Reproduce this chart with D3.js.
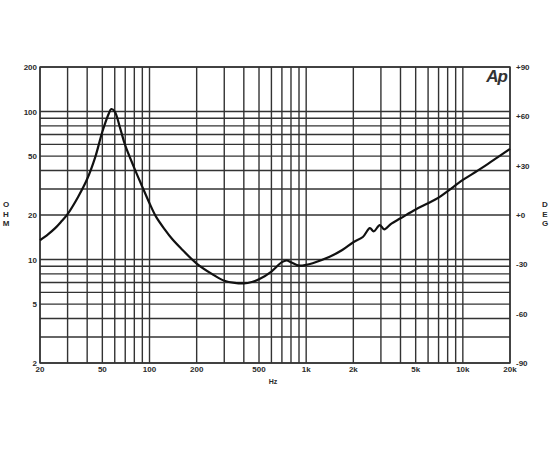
<!DOCTYPE html>
<html>
<head>
<meta charset="utf-8">
<script src="https://cdn.jsdelivr.net/npm/d3@7"></script>
<style>
  body { margin: 0; background: #fff; }
  text { font-family: "Liberation Sans", Arial, sans-serif; font-weight: bold; fill: #2a2a2a; }
</style>
</head>
<body>
<div id="chart"></div>
<script>
// 阻抗曲线数据 (Hz, Ω)
var freqs = [20, 22.5, 25, 27.5, 30, 35, 40, 45, 50, 55, 57, 60, 65, 70, 80, 90, 100, 110, 125, 140, 160, 200,
             250, 300, 350, 400, 450, 500, 600, 700, 750, 800, 900, 1000, 1100, 1400, 1700, 2000,
             2300, 2550, 2700, 2950, 3150, 3500, 4000, 5000, 6000, 7000, 8000, 10000, 12500, 15000, 20000];
var ohms = [13.5, 14.8, 16.3, 18.2, 20.3, 26.5, 35, 49, 73, 97, 104, 100, 77, 59, 41.5, 31, 24, 19.5, 16, 13.7, 11.8, 9.4,
            8.0, 7.2, 6.95, 6.9, 7.05, 7.35, 8.3, 9.6, 9.85, 9.6, 9.1, 9.2, 9.45, 10.4, 11.6, 13.1,
            14.2, 16.3, 15.5, 17.1, 16.0, 17.5, 19.0, 21.8, 24.0, 26.2, 29, 34.5, 40, 45.5, 56];

var xTicks = [20, 50, 100, 200, 500, 1000, 2000, 5000, 10000, 20000];
var xTickLabels = ["20", "50", "100", "200", "500", "1k", "2k", "5k", "10k", "20k"];
var yTicks = [2, 5, 10, 20, 50, 100, 200];
var degTicks = [-90, -60, -30, 0, 30, 60, 90];

var width = 550, height = 450;
var pLeft = 40, pRight = 510, pTop = 67, pBottom = 363;

var svg = d3.select("#chart").append("svg")
    .attr("width", width)
    .attr("height", height);

var x = d3.scaleLog().domain([20, 20000]).range([pLeft, pRight]);
var y = d3.scaleLog().domain([2, 200]).range([pBottom, pTop]);
var yDeg = d3.scaleLinear().domain([-90, 90]).range([pBottom, pTop]);

// 网格线
var xGrid = [];
[10, 100, 1000, 10000].forEach(function(d) {
    for (var i = 1; i <= 9; i++) {
        var v = d * i;
        if (v >= 20 && v <= 20000) xGrid.push(v);
    }
});
var yGrid = [];
[1, 10, 100].forEach(function(d) {
    for (var i = 1; i <= 9; i++) {
        var v = d * i;
        if (v >= 2 && v <= 200) yGrid.push(v);
    }
});

svg.append("g").selectAll("line").data(xGrid).enter().append("line")
    .attr("x1", d => x(d)).attr("x2", d => x(d))
    .attr("y1", pTop).attr("y2", pBottom)
    .attr("stroke", "#333").attr("stroke-width", 1.4);

svg.append("g").selectAll("line").data(yGrid).enter().append("line")
    .attr("x1", pLeft).attr("x2", pRight)
    .attr("y1", d => y(d)).attr("y2", d => y(d))
    .attr("stroke", "#333").attr("stroke-width", 1.4);

svg.append("rect")
    .attr("x", pLeft).attr("y", pTop)
    .attr("width", pRight - pLeft).attr("height", pBottom - pTop)
    .attr("fill", "none").attr("stroke", "#333").attr("stroke-width", 1.4);

// 曲线
var pts = freqs.map((f, i) => [f, ohms[i]]);
svg.append("path")
    .datum(pts)
    .attr("fill", "none")
    .attr("stroke", "#111")
    .attr("stroke-width", 2.2)
    .attr("stroke-linejoin", "round")
    .attr("d", d3.line().x(d => x(d[0])).y(d => y(d[1])).curve(d3.curveCatmullRom.alpha(0.5)));

// 刻度文字
svg.append("g").selectAll("text").data(yTicks).enter().append("text")
    .attr("x", pLeft - 3).attr("y", d => y(d) + 3)
    .attr("text-anchor", "end").attr("font-size", 8)
    .text(d => d);

svg.append("g").selectAll("text").data(degTicks).enter().append("text")
    .attr("x", pRight + 6).attr("y", d => yDeg(d) + 3)
    .attr("font-size", 8)
    .text(d => (d >= 0 ? "+" : "") + d);

svg.append("g").selectAll("text").data(xTicks).enter().append("text")
    .attr("x", d => x(d)).attr("y", pBottom + 9)
    .attr("text-anchor", "middle").attr("font-size", 8)
    .text((d, i) => xTickLabels[i]);

svg.append("text").attr("x", 273).attr("y", 384)
    .attr("text-anchor", "middle").attr("font-size", 7).text("Hz");

["O", "H", "M"].forEach(function(c, i) {
    svg.append("text").attr("x", 6).attr("y", 207 + i * 9.5)
        .attr("text-anchor", "middle").attr("font-size", 8).text(c);
});
["D", "E", "G"].forEach(function(c, i) {
    svg.append("text").attr("x", 545).attr("y", 207 + i * 9.5)
        .attr("text-anchor", "middle").attr("font-size", 8).text(c);
});

// Ap 标志
svg.append("text").attr("x", 507).attr("y", 82)
    .attr("text-anchor", "end").attr("font-size", 17)
    .attr("font-style", "italic").attr("letter-spacing", -1)
    .style("fill", "#333").text("Ap");
</script>
</body>
</html>
